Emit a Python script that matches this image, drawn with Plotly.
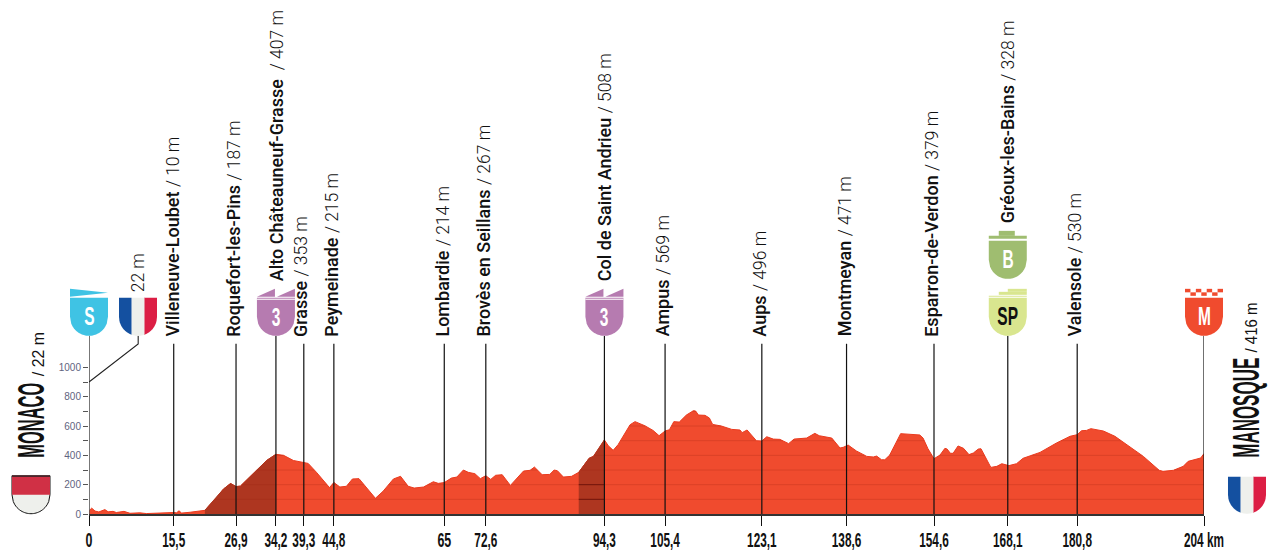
import math
import numpy as np
import plotly.graph_objects as go

# ---------- data ----------
profile_km = [0,0.5,1.1,1.8,2.9,3.5,4.4,5.0,6.4,7.5,9.3,10.5,15.5,16.0,16.5,16.9,18.5,21.2,23.4,24.6,25.9,26.9,27.7,30.7,32.5,34.2,35.6,37.4,39.3,40.1,41.6,44.0,44.8,45.9,47.1,48.2,49.4,50.8,52.4,53.8,55.7,57.0,58.4,59.5,61.2,63.0,63.9,65.0,66.3,67.3,68.5,69.4,70.6,71.6,72.6,73.5,74.4,75.6,77.1,79.5,80.7,81.5,82.9,84.3,85.1,85.7,86.8,88.3,89.6,91.5,92.3,94.3,95.0,95.9,96.8,99.0,99.9,101.7,103.2,104.3,105.4,106.2,107.0,108.0,109.3,110.6,111.0,111.5,112.7,113.5,114.1,115.7,117.6,119.1,119.5,120.4,122.1,123.1,124.0,125.2,126.4,128.0,129.0,131.3,132.8,133.6,135.9,137.4,138.0,138.9,140.4,142.3,143.5,144.1,145.0,145.6,146.5,148.5,149.6,152.0,152.6,153.5,154.6,155.7,156.6,157.0,157.6,158.1,159.0,160.0,161.0,161.8,162.7,163.2,165.0,166.1,167.0,168.3,169.7,170.9,174.0,177.0,179.5,180.8,181.6,182.5,183.3,185.6,187.7,189.8,192.9,195.8,196.5,198.4,200.2,201.1,202.6,203.4,204]
profile_m = [22,40,20,14,30,15,18,10,18,5,8,3,10,8,22,6,12,25,115,170,208,187,190,300,365,407,400,365,353,345,285,180,215,184,189,239,241,177,107,155,239,257,189,177,184,220,209,214,245,252,300,284,275,241,261,236,264,268,195,293,298,320,268,270,300,295,252,257,284,380,393,505,466,434,473,609,630,602,570,534,566,575,630,627,675,705,702,675,673,655,611,600,577,573,555,573,500,498,527,511,509,480,511,518,550,534,518,450,455,470,430,393,389,395,370,370,402,548,545,539,518,445,377,402,448,443,414,414,464,448,405,416,443,445,318,325,343,330,343,380,420,484,530,541,568,570,582,566,530,473,393,298,291,298,325,359,377,382,412]

tick_km = [0,15.5,26.9,34.2,39.3,44.8,65,72.6,94.3,105.4,123.1,138.6,154.6,168.1,180.8,204]
tick_labels = ["0","15,5","26,9","34,2","39,3","44,8","65","72,6","94,3","105,4","123,1","138,6","154,6","168,1","180,8","204 km"]
elev_ticks = [0,100,200,300,400,500,600,700,800,900,1000]
elev_labels = ["0","","200","","400","","600","","800","","1000"]

place_km = [15.5,26.9,34.2,39.3,44.8,65,72.6,94.3,105.4,123.1,138.6,154.6,168.1,180.8]
place_names = ["Villeneuve-Loubet","Roquefort-les-Pins","Alto Châteauneuf-Grasse","Grasse","Peymeinade","Lombardie","Brovès en Seillans","Col de Saint Andrieu","Ampus","Aups","Montmeyan","Esparron-de-Verdon","Gréoux-les-Bains","Valensole"]
place_alt = ["/ 10 m","/ 187 m","/ 407 m","/ 353 m","/ 215 m","/ 214 m","/ 267 m","/ 508 m","/ 569 m","/ 496 m","/ 471 m","/ 379 m","/ 328 m","/ 530 m"]
label_bottom_px = [336,336,280,336,336,336,336,280,336,336,336,336,222,336]
label_shift_px = [-1,-2,0,-3,-2,-2,-2,0,-3,-2,-2,-2,0,-3]
line_top_m = [1161,1161,1215,1161,1161,1161,1161,1215,1161,1161,1161,1161,1215,1161]

climb_ranges = [(21.2,34.2),(89.6,94.3)]

# ---------- colours ----------
RED="#f04b2e"; DARK="#ae3620"; BLUE="#3fc3e4"; PURPLE="#b67bb0"; GREEN="#9fbd70"; LIME="#d9e68f"
FR_B="#1450a0"; FR_W="#eef0ec"; FR_R="#dc1e44"; MC_R="#d03045"
COND="Liberation Sans, CondensedMark"

# ---------- geometry helpers (decoration only) ----------
W,H=1280,554
L,R,B=89,76,39.7
PW=W-L-R; PH=H-B
SCALE=PW/204
def kx(k): return L+k*SCALE
def px(x): return (x-L)/PW
def py(y): return 1-y/PH

shapes=[]
def poly(pts,color,line=None,lw=0):
    d="M "+" L ".join(f"{px(a):.5f},{py(b):.5f}" for a,b in pts)+" Z"
    shapes.append(dict(type="path",xref="paper",yref="paper",path=d,fillcolor=color,
                       line=dict(color=line or color,width=lw),layer="above"))
def shield(cx,y0,y1,color,a=-19,b=19,r=19,line=None,lw=0):
    ys=y1-(r)
    pts=[(cx+a,y0),(cx+b,y0)]
    n=30
    for i in range(n+1):
        d=b+(a-b)*i/n
        pts.append((cx+d,ys+(y1-ys)*math.sqrt(max(0,1-(d/19)**2))))
    poly(pts,color,line,lw)
def rect(x0,y0,x1,y1,c): poly([(x0,y0),(x1,y0),(x1,y1),(x0,y1)],c)

# S
cx=kx(0)
poly([(cx-19,289),(cx+19,293),(cx-19,297)],BLUE); shield(cx,298,336,BLUE)
# France
cx=138
shield(cx,298,336,FR_R,6,19); shield(cx,298,336,FR_W,-6.5,6.5); shield(cx,298,336,FR_B,-19,-6.5)
# cat 3
for k in (34.2,94.3):
    cx=kx(k)
    poly([(cx-19,297),(cx-1,289),(cx-1,297)],PURPLE); poly([(cx+1,297),(cx+19,289),(cx+19,297)],PURPLE)
    shield(cx,298,336,PURPLE)
    rect(cx-19,299,cx+19,300,"white")
# B / SP
cx=kx(168.1)
rect(cx-19,236,cx+19,239,GREEN); rect(cx-9,231,cx+7,236,GREEN)
shield(cx,241,279,GREEN)
rect(cx-9,292,cx+19,295,LIME); rect(cx+0,289,cx+19,292,LIME)
rect(cx-19,296,cx+19,297,LIME)
shield(cx,298,336,LIME)
# M
cx=kx(204)
for i in range(7):
    x=cx-19+i*38/7
    rect(x,292.5 if i%2 else 289,x+38/7,296 if i%2 else 292.5,RED)
shield(cx,298,336,RED)
# Monaco
shield(31,476,514,FR_W,line="#111111",lw=1)
rect(12,476,50,495,MC_R)
poly([(12,476),(50,476),(50,477),(12,477)],"#222222")
# France arrival
cx=1247
shield(cx,477,514,FR_R,6,19); shield(cx,477,514,FR_W,-6.5,6.5); shield(cx,477,514,FR_B,-19,-6.5)

# ---------- traces ----------
km=np.array(profile_km,float); m=np.array(profile_m,float)
fig=go.Figure()
fig.add_trace(go.Scatter(x=profile_km,y=profile_m,mode="lines",fill="tozeroy",fillcolor=RED,
                         line=dict(color="#ea3a1e",width=1),hoverinfo="skip"))
for a,b in climb_ranges:
    mask=(km>=a)&(km<=b)
    fig.add_trace(go.Scatter(x=km[mask],y=m[mask],mode="lines",fill="tozeroy",fillcolor=DARK,
                             line=dict(color=DARK,width=1),hoverinfo="skip"))
# faint level lines that sit inside the filled profile
sx=[];sy=[]
for lev in range(100,800,100):
    for i in range(len(km)-1):
        a,b=m[i],m[i+1]
        if (a<lev)!=(b<lev):
            xc=km[i]+(lev-a)/(b-a)*(km[i+1]-km[i])
            sx.append(xc);sy.append(lev)
            if a>=lev: sx.append(None);sy.append(None)
    if m[-1]>=lev:
        sx+= [km[-1],None]; sy+=[lev,None]
fig.add_trace(go.Scatter(x=sx,y=sy,mode="lines",line=dict(color="rgba(150,30,15,0.22)",width=1),hoverinfo="skip"))
for lev in (100,200):
    fig.add_trace(go.Scatter(x=list(climb_ranges[1]),y=[lev,lev],mode="lines",line=dict(color="rgba(90,10,5,0.7)",width=1),hoverinfo="skip"))

# vertical place lines
vx=[];vy=[]
for k,t in zip(place_km,line_top_m):
    vx+= [k,k,None]; vy+=[0,t,None]
fig.add_trace(go.Scatter(x=vx,y=vy,mode="lines",line=dict(color="#111111",width=1.2),cliponaxis=False,hoverinfo="skip"))
# start / finish posts
fig.add_trace(go.Scatter(x=[0,0],y=[0,1215],mode="lines",line=dict(color="#555555",width=1.6),cliponaxis=False,hoverinfo="skip"))
fig.add_trace(go.Scatter(x=[204,204],y=[0,1215],mode="lines",line=dict(color="#111111",width=1.2),cliponaxis=False,hoverinfo="skip"))
# connector 22 m
fig.add_trace(go.Scatter(x=[0,9,9],y=[900,1160,1215],mode="lines",line=dict(color="#222222",width=1.1),cliponaxis=False,hoverinfo="skip"))

# ---------- annotations ----------
ann=[]
LIGHT='<span style="font-family:Roboto;font-weight:300;font-size:17.5px">'
MED='<span style="font-family:Roboto;font-weight:500">'
for k,n,alt,bot,sh in zip(place_km,place_names,place_alt,label_bottom_px,label_shift_px):
    sep="  " if n.startswith("Alto") else " "
    ann.append(dict(x=k,xref="x",y=py(bot+3),yref="paper",xshift=sh,xanchor="center",yanchor="bottom",textangle=-90,showarrow=False,
                    text=f"{MED}{n}</span>{sep}{LIGHT}{alt}</span>",font=dict(family="Roboto",size=18,color="#111111")))
ann.append(dict(x=px(138),xref="paper",y=py(295),yref="paper",xanchor="center",yanchor="bottom",textangle=-90,showarrow=False,
                text=LIGHT+"22 m</span>",font=dict(family="Roboto",size=17.5,color="#111111")))
def cond(text,xc,yc,size,color="#111111",weight=True,angle=-90):
    t=f"<b>{text}</b>" if weight else text
    ann.append(dict(x=px(xc),xref="paper",y=py(yc),yref="paper",xanchor="center",yanchor="middle",textangle=angle,showarrow=False,
                    text=t,font=dict(family=COND,size=size,color=color)))
cond("MONACO",31,420.5,36)
cond("/ 22 m",39,355,17,weight=False)
cond("MANOSQUE",1247,408,36)
cond("/ 416 m",1252,328,17,weight=False)
cond("S",kx(0),316,25,"white",angle=0)
cond("3",kx(34.2),317,25,"white",angle=0)
cond("3",kx(94.3),317,25,"white",angle=0)
cond("B",kx(168.1),259,25,"white",angle=0)
cond("SP",kx(168.1),316,25,"#111111",angle=0)
cond("M",kx(204),316,25,"white",angle=0)

fig.update_layout(
    width=W,height=H,margin=dict(l=L,r=R,t=0,b=B,pad=0),autosize=False,
    paper_bgcolor="white",plot_bgcolor="white",showlegend=False,
    shapes=shapes,annotations=ann,
    xaxis=dict(range=[0,204],tickmode="array",tickvals=tick_km,ticktext=tick_labels,ticks="outside",ticklen=10,tickwidth=1.2,
               tickcolor="#111111",showgrid=False,zeroline=False,showline=True,linecolor="#333333",linewidth=1.5,
               ticklabelstandoff=-3,
               tickangle=0,tickfont=dict(family=COND,size=20,color="#111111",weight="bold")),
    yaxis=dict(range=[0,PH/0.1467],tickmode="array",tickvals=elev_ticks,ticktext=elev_labels,ticks="outside",ticklen=5,tickwidth=1,
               tickcolor="#555555",showgrid=False,zeroline=False,showline=False,
               tickfont=dict(family="Liberation Sans",size=10,color="#5f6480")),
)

squeeze_js = """
document.body.style.margin='0';
var targets={'MONACO':75,'MANOSQUE':100,'/ 22 m':44,'/ 416 m':50};
document.querySelectorAll('text').forEach(function(t){
  var f=t.style.fontFamily||'';
  if(f.indexOf('CondensedMark')<0) return;
  var s=t.textContent, w=t.getComputedTextLength(), goal=targets[s];
  if(!goal){ goal = s.length<=2 ? w*0.62 : w*0.59; }
  t.setAttribute('textLength',goal);
  t.setAttribute('lengthAdjust','spacingAndGlyphs');
});
"""
fig.write_html("out.html",post_script=squeeze_js,config=dict(displayModeBar=False))
